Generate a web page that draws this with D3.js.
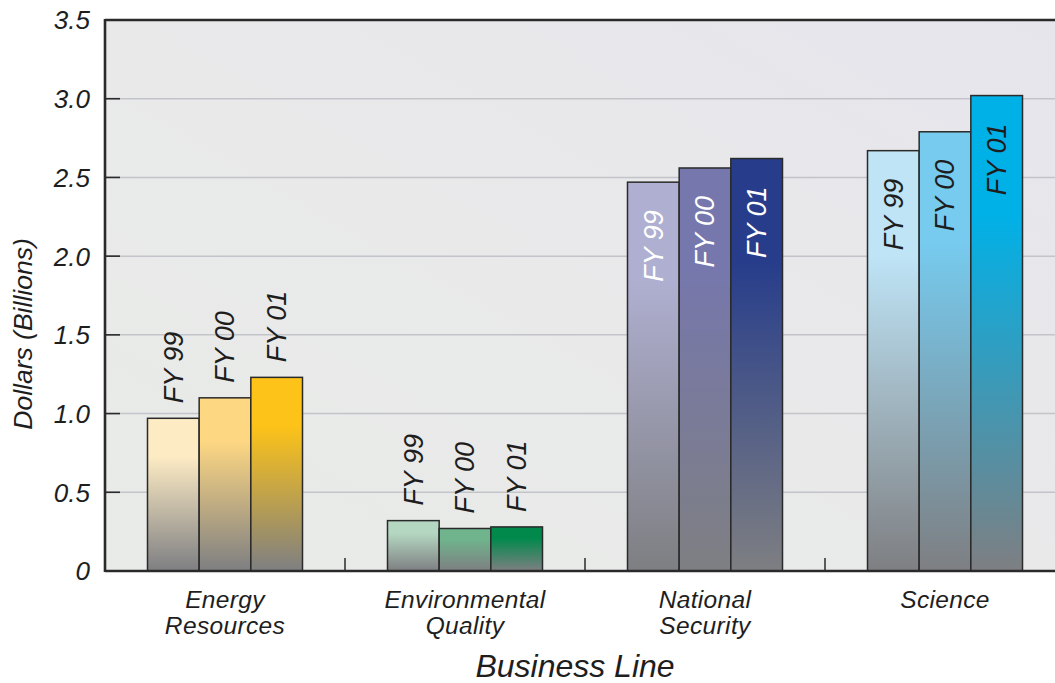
<!DOCTYPE html>
<html>
<head>
<meta charset="utf-8">
<script src="https://cdn.jsdelivr.net/npm/d3@7"></script>
<style>
  html, body { margin: 0; padding: 0; background: #ffffff; }
  svg { display: block; }
  text { font-family: "Liberation Sans", Arial, Helvetica, sans-serif; font-style: italic; fill: #1e1e1e; }
</style>
</head>
<body>
<svg id="chart" width="1055" height="683"></svg>
<script>
// ---------- data ----------
const categories = ["Energy Resources", "Environmental Quality", "National Security", "Science"];
const categoryLines = [["Energy", "Resources"], ["Environmental", "Quality"], ["National", "Security"], ["Science"]];
const series = ["FY 99", "FY 00", "FY 01"];
const fy99 = [0.97, 0.32, 2.47, 2.67];
const fy00 = [1.10, 0.27, 2.56, 2.79];
const fy01 = [1.23, 0.28, 2.62, 3.02];
const yTicks = [0, 0.5, 1.0, 1.5, 2.0, 2.5, 3.0, 3.5];
const yTickLabels = ["0", "0.5", "1.0", "1.5", "2.0", "2.5", "3.0", "3.5"];
const yTitle = "Dollars (Billions)";
const xTitle = "Business Line";

// colours: [category][series]
const barColors = [
  ["#fdebc4", "#fdd782", "#fdc318"],
  ["#b4d7c1", "#6fb48c", "#00894b"],
  ["#afafd1", "#7677ac", "#273d8b"],
  ["#bee4f6", "#76cbef", "#00b1e7"]
];
const labelColors = ["#1e1e1e", "#1e1e1e", "#ffffff", "#1e1e1e"];
const fadeColor = "#7e7f82";

// ---------- layout ----------
const svg = d3.select("#chart");
const pL = 105, pT = 20, pB = 571, pR = 1065;

const x = d3.scaleBand().domain(categories).range([pL, pR]).paddingInner(0).paddingOuter(0);
const xs = d3.scaleBand().domain(series).range([42.5, 197.5]).padding(0);
const y = d3.scaleLinear().domain([0, 3.5]).range([pB, pT]);

const values = [fy99, fy00, fy01];
const rows = [];
categories.forEach((c, ci) => {
  series.forEach((s, si) => {
    rows.push({ c, ci, s, si, v: values[si][ci] });
  });
});

// ---------- defs ----------
const defs = svg.append("defs");
const bg = defs.append("linearGradient").attr("id", "bg")
  .attr("x1", "0").attr("y1", "1").attr("x2", "1").attr("y2", "0");
bg.append("stop").attr("offset", "0").attr("stop-color", "#e8ebe7");
bg.append("stop").attr("offset", "0.5").attr("stop-color", "#e9e9ea");
bg.append("stop").attr("offset", "1").attr("stop-color", "#e6e5ec");

rows.forEach(d => {
  const g = defs.append("linearGradient").attr("id", `g${d.ci}${d.si}`)
    .attr("x1", "0").attr("y1", "0").attr("x2", "0").attr("y2", "1");
  g.append("stop").attr("offset", "0").attr("stop-color", barColors[d.ci][d.si]);
  g.append("stop").attr("offset", "0.25").attr("stop-color", barColors[d.ci][d.si]);
  g.append("stop").attr("offset", "1").attr("stop-color", fadeColor);
});

// ---------- plot background ----------
svg.append("rect")
  .attr("x", pL).attr("y", pT)
  .attr("width", pR - pL).attr("height", pB - pT)
  .attr("fill", "url(#bg)");

// gridlines
svg.append("g").selectAll("line")
  .data(yTicks.filter(t => t > 0 && t < 3.5))
  .join("line")
  .attr("x1", pL).attr("x2", pR)
  .attr("y1", d => y(d)).attr("y2", d => y(d))
  .attr("stroke", "#c3c3ca").attr("stroke-width", 1.5);

// tick marks (inside)
svg.append("g").selectAll("line")
  .data(yTicks.filter(t => t > 0 && t < 3.5))
  .join("line")
  .attr("x1", pL).attr("x2", pL + 15)
  .attr("y1", d => y(d)).attr("y2", d => y(d))
  .attr("stroke", "#2a2a2a").attr("stroke-width", 1.6);

// category separators
svg.append("g").selectAll("line")
  .data(categories.slice(1))
  .join("line")
  .attr("x1", d => x(d)).attr("x2", d => x(d))
  .attr("y1", pB - 13).attr("y2", pB)
  .attr("stroke", "#2a2a2a").attr("stroke-width", 1.5);

// ---------- bars ----------
svg.append("g").selectAll("rect")
  .data(rows)
  .join("rect")
  .attr("x", d => x(d.c) + xs(d.s))
  .attr("y", d => y(d.v))
  .attr("width", xs.bandwidth())
  .attr("height", d => y(0) - y(d.v))
  .attr("fill", d => `url(#g${d.ci}${d.si})`)
  .attr("stroke", "#2a2a2a").attr("stroke-width", 1.5);

// bar labels
svg.append("g").selectAll("text")
  .data(rows)
  .join("text")
  .attr("transform", d => {
    const cx = x(d.c) + xs(d.s) + xs.bandwidth() / 2;
    const inside = d.v > 2;
    const yy = inside ? y(d.v) + 28 : y(d.v) - 15;
    return `translate(${cx},${yy}) rotate(-90)`;
  })
  .attr("dy", "0.35em")
  .attr("text-anchor", d => d.v > 2 ? "end" : "start")
  .style("fill", d => d.v > 2 ? labelColors[d.ci] : "#1e1e1e")
  .style("font-size", "27px")
  .text(d => d.s);

// ---------- frame ----------
svg.append("line").attr("x1", pL).attr("x2", pL).attr("y1", pT - 1).attr("y2", pB + 1)
  .attr("stroke", "#2a2a2a").attr("stroke-width", 2.6);
svg.append("line").attr("x1", pL).attr("x2", pR).attr("y1", pT).attr("y2", pT)
  .attr("stroke", "#2a2a2a").attr("stroke-width", 2.6);
svg.append("line").attr("x1", pL).attr("x2", pR).attr("y1", pB).attr("y2", pB)
  .attr("stroke", "#2a2a2a").attr("stroke-width", 2.6);

// ---------- y tick labels ----------
svg.append("g").selectAll("text")
  .data(yTicks)
  .join("text")
  .attr("x", 90)
  .attr("y", d => y(d))
  .attr("dy", "0.36em")
  .attr("text-anchor", "end")
  .style("font-size", "26px")
  .text((d, i) => yTickLabels[i]);

// ---------- x category labels ----------
const xl = svg.append("g").selectAll("text")
  .data(categories)
  .join("text")
  .attr("x", d => x(d) + x.bandwidth() / 2)
  .attr("y", 608)
  .attr("text-anchor", "middle")
  .style("font-size", "24.5px")
  .style("letter-spacing", "0.35px");
xl.selectAll("tspan")
  .data((d, i) => categoryLines[i])
  .join("tspan")
  .attr("x", function() { return d3.select(this.parentNode).attr("x"); })
  .attr("dy", (d, i) => i === 0 ? 0 : 26)
  .text(d => d);

// ---------- titles ----------
svg.append("text")
  .attr("x", 575).attr("y", 677)
  .attr("text-anchor", "middle")
  .style("font-size", "32px")
  .text(xTitle);

svg.append("text")
  .attr("transform", `translate(32,334) rotate(-90)`)
  .attr("text-anchor", "middle")
  .style("font-size", "26.5px")
  .text(yTitle);
</script>
</body>
</html>
